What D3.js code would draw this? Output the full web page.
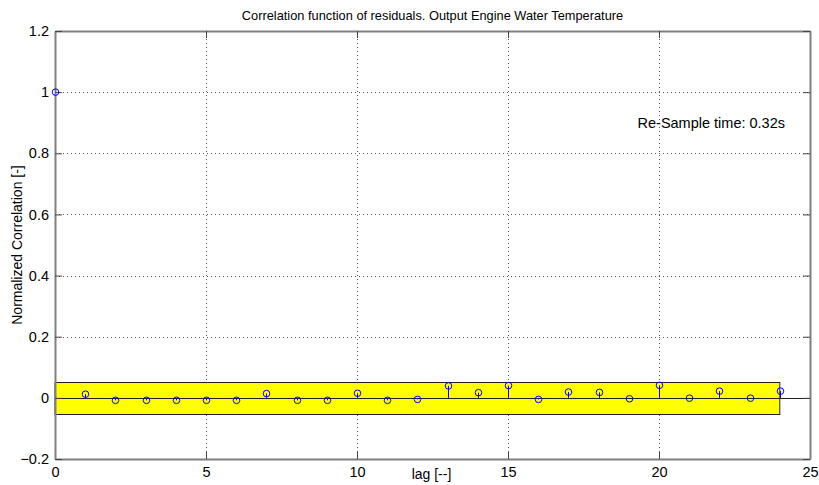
<!DOCTYPE html>
<html>
<head>
<meta charset="utf-8">
<script src="https://cdn.jsdelivr.net/npm/d3@7"></script>
<style>
  html, body { margin: 0; padding: 0; background: #fff; }
  svg text { font-family: "Liberation Sans", Arial, sans-serif; fill: #000; }
</style>
</head>
<body>
<svg id="chart" width="819" height="485"></svg>
<script>
// Residual autocorrelation by lag
const lags = d3.range(0, 25);
const corrValues = [1.000, 0.012, -0.008, -0.008, -0.008, -0.008, -0.008, 0.014, -0.008, -0.008,
                    0.015, -0.008, -0.005, 0.039, 0.017, 0.040, -0.005, 0.019, 0.018, -0.003,
                    0.041, -0.001, 0.022, -0.001, 0.022];
// Confidence band for white residuals
const bandLimit = 0.052;
const bandLagMax = 24;
const xTicks = [0, 5, 10, 15, 20, 25];
const yTicks = [-0.2, 0, 0.2, 0.4, 0.6, 0.8, 1, 1.2];
const titleText = "Correlation function of residuals. Output Engine Water Temperature";
const xLabel = "lag [--]";
const yLabel = "Normalized Correlation [-]";
const noteText = "Re-Sample time: 0.32s";

const svg = d3.select("#chart");
const m = { left: 55, right: 9, top: 31, bottom: 26 };
const W = 819, H = 485;
const x = d3.scaleLinear().domain([0, 25]).range([m.left, W - m.right]);
const y = d3.scaleLinear().domain([-0.2, 1.2]).range([H - m.bottom, m.top]);
const px = v => Math.round(v) + 0.5;

const g = svg.append("g");

// grid
g.append("g").selectAll("line").data(xTicks.slice(1, -1)).join("line")
  .attr("x1", d => px(x(d))).attr("x2", d => px(x(d)))
  .attr("y1", y(1.2)).attr("y2", y(-0.2))
  .attr("stroke", "#555").attr("stroke-width", 1).attr("stroke-dasharray", "1,3");
g.append("g").selectAll("line").data(yTicks.slice(1, -1)).join("line")
  .attr("x1", x(0)).attr("x2", x(25))
  .attr("y1", d => px(y(d))).attr("y2", d => px(y(d)))
  .attr("stroke", "#555").attr("stroke-width", 1).attr("stroke-dasharray", "1,3");

// confidence band
g.append("rect")
  .attr("x", x(0)).attr("y", px(y(bandLimit)))
  .attr("width", x(bandLagMax) - x(0)).attr("height", Math.round(y(-bandLimit) - y(bandLimit)))
  .attr("fill", "#ffff00").attr("stroke", "#222").attr("stroke-width", 1);

// zero line
g.append("line")
  .attr("x1", x(0)).attr("x2", x(25))
  .attr("y1", px(y(0))).attr("y2", px(y(0)))
  .attr("stroke", "#222").attr("stroke-width", 1);

// stems
const data = lags.map((l, i) => ({ lag: l, v: corrValues[i] }));
g.append("g").selectAll("line").data(data).join("line")
  .attr("x1", d => px(x(d.lag))).attr("x2", d => px(x(d.lag)))
  .attr("y1", y(0)).attr("y2", d => y(d.v))
  .attr("stroke", "#0000ff").attr("stroke-width", 1);

// axes box with inward ticks
const axisColor = "#808080";
const tickLen = 7;
const xAxisB = d3.axisBottom(x).tickValues(xTicks).tickSizeInner(-tickLen).tickSizeOuter(0).tickPadding(8).tickFormat(d3.format("d"));
const xAxisT = d3.axisTop(x).tickValues(xTicks).tickSizeInner(-tickLen).tickSizeOuter(0).tickFormat("");
const yAxisL = d3.axisLeft(y).tickValues(yTicks).tickSizeInner(-tickLen).tickSizeOuter(0).tickPadding(6).tickFormat(d => d3.format("")(+d.toFixed(1)));
const yAxisR = d3.axisRight(y).tickValues(yTicks).tickSizeInner(-tickLen).tickSizeOuter(0).tickFormat("");

function style(sel) {
  sel.selectAll("path").attr("stroke", axisColor).attr("stroke-width", 2);
  sel.selectAll("line").attr("stroke", "#444");
  sel.selectAll("text").attr("font-size", 14.5).attr("fill", "#000")
    .attr("font-family", '"Liberation Sans", Arial, sans-serif');
}
g.append("g").attr("transform", `translate(0,${y(-0.2)})`).call(xAxisB).call(style);
g.append("g").attr("transform", `translate(0,${y(1.2)})`).call(xAxisT).call(style);
g.append("g").attr("transform", `translate(${x(0)},0)`).call(yAxisL).call(style);
g.append("g").attr("transform", `translate(${x(25)},0)`).call(yAxisR).call(style);

// circle markers
g.append("g").selectAll("circle").data(data).join("circle")
  .attr("cx", d => px(x(d.lag))).attr("cy", d => y(d.v)).attr("r", 3.3)
  .attr("fill", "none").attr("stroke", "#0000ff").attr("stroke-width", 1);

// texts
svg.append("text").attr("x", (x(0) + x(25)) / 2).attr("y", 20)
  .attr("text-anchor", "middle").attr("font-size", 12.8).text(titleText);
svg.append("text").attr("x", (x(0) + x(25)) / 2 - 1).attr("y", 479)
  .attr("text-anchor", "middle").attr("font-size", 14).text(xLabel);
svg.append("text").attr("transform", `translate(22,${(y(-0.2) + y(1.2)) / 2}) rotate(-90)`)
  .attr("text-anchor", "middle").attr("font-size", 14).text(yLabel);
svg.append("text").attr("x", 785).attr("y", 128)
  .attr("text-anchor", "end").attr("font-size", 14.5).text(noteText);
</script>
</body>
</html>
